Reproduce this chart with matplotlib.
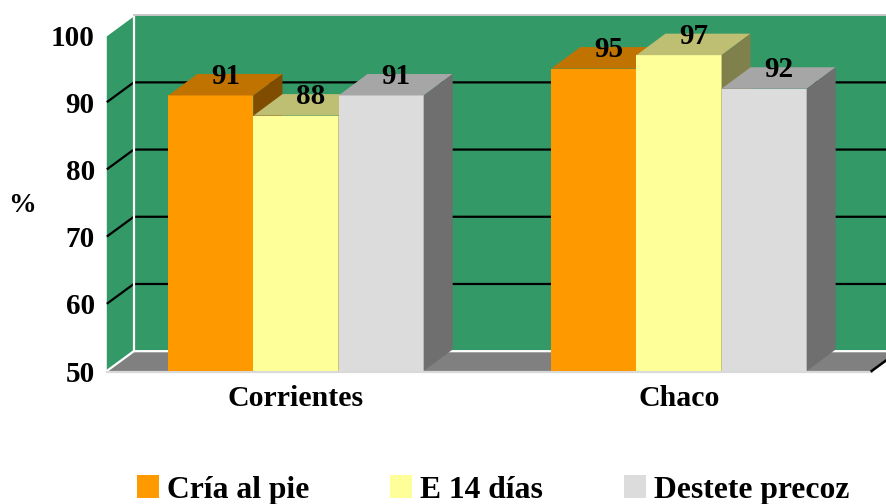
import matplotlib
matplotlib.use("Agg")
import matplotlib.pyplot as plt
from matplotlib.patches import Polygon, Patch

# data
regions = ["Corrientes", "Chaco"]
series = ["Cría al pie", "E 14 días", "Destete precoz"]
cria = [91, 95]
e14 = [88, 97]
destete = [91, 92]
values = [cria, e14, destete]

yticks = [50, 60, 70, 80, 90, 100]
grid_vals = [60, 70, 80, 90]

# style
front_cols = ["#FF9900", "#FFFF99", "#DCDCDC"]
top_cols = ["#C07300", "#BFBF73", "#A6A6A6"]
side_cols = ["#7F4C00", "#80804C", "#6F6F6F"]
wall_col = "#339966"
floor_col = "#808080"
font = "Liberation Serif"

W, H = 887, 504
fig = plt.figure(figsize=(W / 100, H / 100), dpi=100)
ax = fig.add_axes([104.5 / W, 1 - 371 / H, 766 / W, 336 / H])
ax.set_xlim(-0.5, 1.5)
ax.set_ylim(50, 100)
ax.patch.set_visible(False)
for s in ax.spines.values():
    s.set_visible(False)

# depth offsets (data units)
wdx, wdy = 0.0705, 2.95   # walls / floor
bdx, bdy = 0.0757, 3.2    # bars
xl, xr = -0.494, 1.503
ymin, ymax = 50, 100

# side wall, back wall, floor
side = Polygon([(xl, ymin), (xl + wdx, ymin + wdy), (xl + wdx, ymax + wdy), (xl, ymax)],
               closed=True, fc=wall_col, ec="none", zorder=1, clip_on=False)
back = Polygon([(xl + wdx, ymin + wdy), (xr + wdx, ymin + wdy), (xr + wdx, ymax + wdy), (xl + wdx, ymax + wdy)],
               closed=True, fc=wall_col, ec="none", zorder=1, clip_on=False)
floor = Polygon([(xl, ymin), (xr, ymin), (xr + wdx, ymin + wdy), (xl + wdx, ymin + wdy)],
                closed=True, fc=floor_col, ec="none", zorder=1, clip_on=False)
for p in (side, back, floor):
    ax.add_patch(p)

# gridlines
for v in grid_vals:
    ax.plot([xl, xl + wdx, xr + wdx], [v, v + wdy, v + wdy], color="black", lw=1.6,
            zorder=2, clip_on=False, solid_capstyle="butt")

# wall edges
ec = dict(color="white", lw=1.6, zorder=2.5, clip_on=False)
ax.plot([xl + wdx, xl + wdx], [ymin + wdy, ymax + wdy], **ec)
ax.plot([xl, xl + wdx, xr + wdx], [ymin, ymin + wdy, ymin + wdy], **ec)
ax.plot([xl, xl + wdx], [ymax, ymax + wdy], **ec)
ax.plot([xl + wdx, xr + wdx], [ymax + wdy, ymax + wdy], color="#C8C8C8", lw=1.4, zorder=2.5, clip_on=False)
ax.plot([xl, xr], [ymin - 0.15, ymin - 0.15], color="#D9D9D9", lw=1.6, zorder=2.5, clip_on=False)
ax.plot([xr, xr + wdx], [ymin, ymin + wdy], color="black", lw=1.8, zorder=2.5, clip_on=False)

# bars
bw = 1 / 4.5
z = 3
for g in range(len(regions)):
    for i in range(len(series)):
        v = values[i][g]
        x0 = g + (i - 1.5) * bw
        x1 = x0 + bw
        ax.bar(x0, v - ymin, width=bw, bottom=ymin, align="edge", color=front_cols[i],
               zorder=z, clip_on=False, linewidth=0)
        ax.add_patch(Polygon([(x0, v), (x1, v), (x1 + bdx, v + bdy), (x0 + bdx, v + bdy)],
                             closed=True, fc=top_cols[i], ec="none", zorder=z, clip_on=False))
        ax.add_patch(Polygon([(x1, ymin), (x1 + bdx, ymin + bdy), (x1 + bdx, v + bdy), (x1, v)],
                             closed=True, fc=side_cols[i], ec="none", zorder=z, clip_on=False))
        ax.text(x0 + bw / 2 + bdx / 2, v + 1.71, str(v), ha="center", va="baseline",
                fontsize=21, fontweight="bold", family=font, zorder=z + 10)
        z += 0.1

# axes labels
ax.set_yticks(yticks)
ax.set_yticklabels([str(t) for t in yticks], fontsize=21, fontweight="bold", family=font)
ax.set_xticks(range(len(regions)))
ax.set_xticklabels(regions, fontsize=21.5, fontweight="bold", family=font)
ax.tick_params(axis="y", length=0, pad=7)
ax.tick_params(axis="x", length=0, pad=10)
fig.text(22 / W, 1 - 205 / H, "%", ha="center", va="center", fontsize=20,
         fontweight="bold", family=font)

# legend
handles = [Patch(facecolor=c, edgecolor="none") for c in front_cols]
fig.legend(handles, series, loc="center", bbox_to_anchor=(493 / W, 1 - 490 / H),
           ncol=3, frameon=False, prop={"family": font, "weight": "bold", "size": 22.8},
           handlelength=0.7, handleheight=0.7, handletextpad=0.25, columnspacing=2.55,
           borderpad=0, borderaxespad=0)

fig.savefig("out.png", dpi=100)
